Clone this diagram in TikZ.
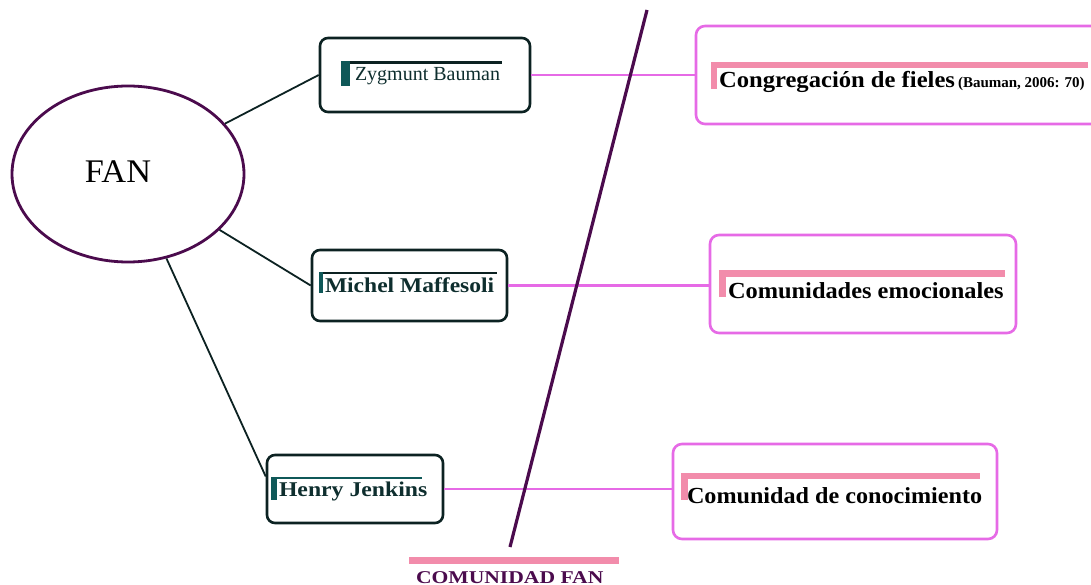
\documentclass[tikz,border=0pt]{standalone}
\usepackage{fontspec}
\usepackage{graphicx}
\setmainfont{Liberation Serif}
\usetikzlibrary{shapes.geometric}
\definecolor{fanpurple}{HTML}{4B0B4D}
\definecolor{boxdark}{HTML}{0C2222}
\definecolor{tealbar}{HTML}{0F5858}
\definecolor{nametext}{HTML}{0E2E2E}
\definecolor{magentaline}{HTML}{E66AE6}
\definecolor{pinkbar}{HTML}{F28CAB}
\tikzset{
  authorbox/.style={draw=boxdark, line width=2.6pt, rounded corners=8pt, fill=white, inner sep=0pt},
  conceptbox/.style={draw=magentaline, line width=2.6pt, rounded corners=9pt, fill=white, inner sep=0pt},
  blackedge/.style={draw=boxdark, line width=1.8pt},
  pinkedge/.style={draw=magentaline, line width=2.4pt},
  label/.style={anchor=base west, inner sep=0pt, outer sep=0pt},
}
\begin{document}
\begin{tikzpicture}[x=1pt,y=-1pt]
\useasboundingbox (0,0) rectangle (1091,585);
\clip (0,0) rectangle (1091,585);
\fill[white] (0,0) rectangle (1091,585);

% central ellipse
\node[ellipse, draw=fanpurple, line width=2.8pt, minimum width=232pt, minimum height=176pt, inner sep=0pt] (fan) at (128,174) {};
\node[inner sep=0pt, anchor=base] (fantext) at (118,183) {\scalebox{1.04}[1]{\fontsize{33}{38}\selectfont FAN}};

% author boxes
\node[authorbox, minimum width=210pt, minimum height=74pt] (b1) at (425,75) {};
\node[authorbox, minimum width=195pt, minimum height=71pt] (b2) at (409.5,285.5) {};
\node[authorbox, minimum width=176pt, minimum height=68pt] (b3) at (355,489) {};

% concept boxes
\node[conceptbox, minimum width=410pt, minimum height=98pt] (a1) at (901,75) {};
\node[conceptbox, minimum width=306pt, minimum height=98pt] (a2) at (863,284) {};
\node[conceptbox, minimum width=324pt, minimum height=95pt] (a3) at (835,491.5) {};

% connectors from the ellipse
\draw[blackedge] (fan) -- (b1.west);
\draw[blackedge] (fan) -- (b2.west);
\draw[blackedge] (fan) -- (b3.172);

% connectors to the concepts
\draw[pinkedge] (b1.east) -- (b1.east -| a1.west);
\draw[pinkedge] (b2.east) -- (b2.east -| a2.west);
\draw[pinkedge] (b3.east) -- (b3.east -| a3.west);

% dividing stroke
\coordinate (divtop) at (647,10);
\coordinate (divbot) at (510,547);
\draw[fanpurple, line width=3.2pt] (divtop) -- (divbot);

% author header bars
\fill[boxdark] (341,61) rectangle (502,64);
\fill[tealbar] (341,61) rectangle (350,86);
\fill[boxdark] (319,272) rectangle (497,274);
\fill[tealbar] (319,272) rectangle (323,293);
\fill[tealbar] (271,476.5) rectangle (422,478.5);
\fill[tealbar] (271,477) rectangle (277,500);

% concept header bars
\fill[pinkbar] (711,62) rectangle (1088,68);
\fill[pinkbar] (711,62) rectangle (717,89);
\fill[pinkbar] (719,270) rectangle (1005,277);
\fill[pinkbar] (719,270) rectangle (726,297);
\fill[pinkbar] (681,473) rectangle (980,479);
\fill[pinkbar] (681,473) rectangle (688,500);

% author names
\node[label, text=nametext] (t1) at (355,81) {\fontsize{20}{24}\selectfont Zygmunt Bauman};
\node[label, text=nametext] (t2) at (325,292) {\scalebox{1.12}[1]{\fontsize{21}{25}\selectfont\bfseries Michel Maffesoli}};
\node[label, text=nametext] (t3) at (279,496) {\scalebox{1.13}[1]{\fontsize{21}{25}\selectfont\bfseries Henry Jenkins}};

% concept labels
\node[label] (c1) at (719,88) {\bfseries\scalebox{1.07}[1]{\fontsize{23}{27}\selectfont Congregación de fieles}\hspace{3pt}{\fontsize{15}{18}\selectfont (Bauman, 2006: 70)}};
\node[label] (c2) at (728,298) {\scalebox{1.06}[1]{\fontsize{23}{27}\selectfont\bfseries Comunidades emocionales}};
\node[label] (c3) at (687,503) {\scalebox{1.05}[1]{\fontsize{23}{27}\selectfont\bfseries Comunidad de conocimiento}};

% caption under the divider
\fill[pinkbar] (409,557) rectangle (619,564);
\node[label, text=fanpurple] (cap) at (416,583) {\scalebox{1.2}[1]{\fontsize{18}{22}\selectfont\bfseries COMUNIDAD FAN}};
\end{tikzpicture}
\end{document}
